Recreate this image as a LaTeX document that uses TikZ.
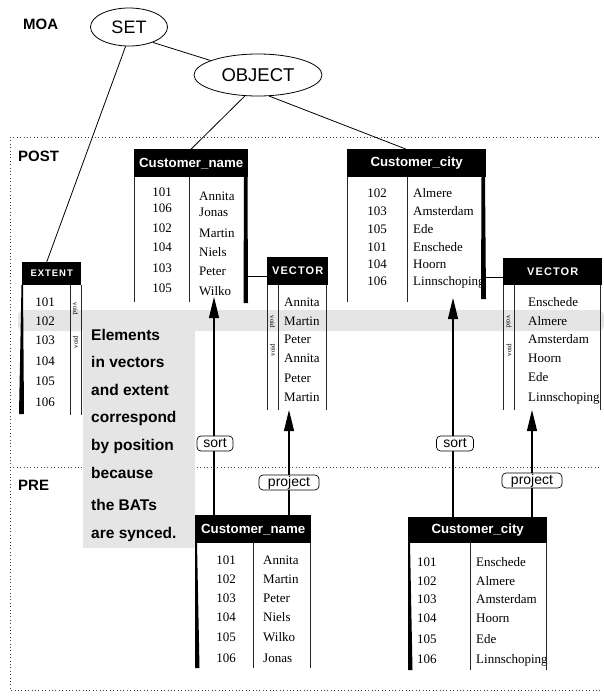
\documentclass[tikz,border=0pt]{standalone}
\usepackage{fontspec}
\setmainfont{Liberation Serif}
\newfontfamily\hv{Liberation Sans}
\newfontfamily\hvsp[LetterSpace=10]{Liberation Sans}
\usetikzlibrary{arrows.meta,shapes.geometric}

\begin{document}
\begin{tikzpicture}[x=1pt,y=-1pt,
  frame/.style={black!75, line width=0.8pt, dash pattern=on 0.8pt off 2.6pt},
  rule/.style={black!85, line width=0.9pt},
  hdr/.style={fill=black, text=white, inner sep=0pt, anchor=north west,
    font=\hv\bfseries\fontsize{13.3}{13.3}\selectfont},
  vhdr/.style={fill=black, text=white, inner sep=0pt, anchor=north west,
    font=\hvsp\bfseries\fontsize{11}{11}\selectfont},
  num/.style={inner sep=0pt, text height=8.6pt, text depth=0pt,
    font=\fontsize{13}{13}\selectfont},
  nm/.style={num, anchor=west},
  vd/.style={inner sep=0pt, font=\fontsize{7}{7}\selectfont},
  tag/.style={font=\hv\bfseries\fontsize{15}{15}\selectfont, inner sep=0pt,
    anchor=west, text height=11pt, text depth=0pt},
  note/.style={font=\hv\bfseries\fontsize{15.5}{15.5}\selectfont, inner sep=0pt,
    anchor=west, text height=11pt, text depth=0pt},
  oval/.style={ellipse, draw, line width=0.8pt, inner sep=0pt},
  link/.style={line width=0.8pt},
  arr/.style={line width=1.2pt, -{Triangle[length=21pt,width=10pt]}},
  op/.style={draw, rounded corners=4pt, fill=white, line width=0.7pt,
    inner sep=0pt, minimum height=15pt, font=\hv\fontsize{14}{14}\selectfont},
]
\useasboundingbox (0,0) rectangle (604,696);

% layer frame: POST above, PRE below
\draw[frame] (10,137) -- (600,137);
\draw[frame] (10,137) -- (10,690) -- (600,690);
\draw[frame] (10,467) -- (600,467);

% highlighted row and explanatory note
\fill[black!10, rounded corners=6pt] (18,310) rectangle (604,331);
\fill[black!10] (83,310) rectangle (195,548);
\foreach \t/\y [count=\i] in {Elements/335, in vectors/362, and extent/390,
    correspond/417, by position/445, because/473, the BATs/505, are synced./533}
  \node[note] (note-\i) at (91,\y) {\t};

% layer labels
\node[tag] (moa) at (23,24) {MOA};
\node[tag] (post) at (18,156) {POST};
\node[tag] (pre) at (18,485) {PRE};

% MOA level
\node[oval, minimum width=77pt, minimum height=38pt,
  font=\hv\fontsize{18}{18}\selectfont] (set) at (129,27) {SET};
\node[oval, minimum width=128pt, minimum height=42pt,
  font=\hv\fontsize{18.5}{18.5}\selectfont] (object) at (258,75) {OBJECT};

% table headers
\node[hdr, minimum width=114pt, minimum height=28pt] (cnT) at (134,149) {Customer\_name};
\node[hdr, minimum width=139pt, minimum height=28pt] (ccT) at (347,149) {Customer\_city};
\node[vhdr, minimum width=59pt, minimum height=23pt,
  font=\hvsp\bfseries\fontsize{9.5}{9.5}\selectfont] (ext) at (22,262) {EXTENT};
\node[vhdr, minimum width=61pt, minimum height=28pt] (vecA) at (267,257) {VECTOR};
\node[vhdr, minimum width=99pt, minimum height=27pt] (vecB) at (503,258) {VECTOR};
\node[hdr, minimum width=116pt, minimum height=28pt] (cnB) at (195,515) {Customer\_name};
\node[hdr, minimum width=139pt, minimum height=26pt] (ccB) at (408,517) {Customer\_city};

% POST: Customer_name
\foreach \t/\y [count=\i] in {101/192,106/208,102/228,104/247,103/268,105/288}
  \node[num] (cnT-k\i) at (162,\y) {\t};
\foreach \t/\y [count=\i] in {Annita/196,Jonas/212,Martin/233,Niels/252,Peter/271,Wilko/291}
  \node[nm] (cnT-v\i) at (199,\y) {\t};

% POST: Customer_city
\foreach \t/\y [count=\i] in {102/193,103/211,105/229,101/247,104/264,106/281}
  \node[num] (ccT-k\i) at (377,\y) {\t};
\foreach \t/\y [count=\i] in {Almere/193,Amsterdam/211,Ede/229,Enschede/247,Hoorn/264,Linnschoping/281}
  \node[nm] (ccT-v\i) at (413,\y) {\t};

% POST: extent
\foreach \t/\y [count=\i] in {101/302,102/321,103/340,104/361,105/381,106/402}
  \node[num] (ext-k\i) at (45,\y) {\t};
\node[vd, rotate=-90] (ext-void1) at (75.5,309) {void};
\node[vd, rotate=90] (ext-void2) at (75.5,342) {void};

% POST: vectors
\foreach \t/\y [count=\i] in {Annita/302,Martin/321,Peter/339,Annita/358,Peter/378,Martin/397}
  \node[nm] (vecA-v\i) at (284,\y) {\t};
\node[vd, rotate=-90] (vecA-void1) at (272.5,322) {void};
\node[vd, rotate=90] (vecA-void2) at (272.5,350) {void};
\foreach \t/\y [count=\i] in {Enschede/302,Almere/321,Amsterdam/339,Hoorn/358,Ede/377,Linnschoping/397}
  \node[nm] (vecB-v\i) at (528,\y) {\t};
\node[vd, rotate=-90] (vecB-void1) at (509,322) {void};
\node[vd, rotate=90] (vecB-void2) at (509,350) {void};

% PRE: Customer_name
\foreach \t/\y [count=\i] in {101/560,102/579,103/598,104/617,105/637,106/658}
  \node[num] (cnB-k\i) at (226,\y) {\t};
\foreach \t/\y [count=\i] in {Annita/560,Martin/579,Peter/598,Niels/617,Wilko/637,Jonas/658}
  \node[nm] (cnB-v\i) at (263,\y) {\t};

% PRE: Customer_city
\foreach \t/\y [count=\i] in {101/562,102/581,103/599,104/618,105/639,106/659}
  \node[nm] (ccB-k\i) at (417,\y) {\t};
\foreach \t/\y [count=\i] in {Enschede/562,Almere/581,Amsterdam/599,Hoorn/618,Ede/639,Linnschoping/659}
  \node[nm] (ccB-v\i) at (476,\y) {\t};

% table bodies: column rules and shaded edges
\draw[rule] (134,177) -- (134,302);
\draw[rule] (189,177) -- (189,302);
\fill (244,177) -- (247.5,177) -- (248,303) -- (243.5,303) -- cycle;

\draw[rule] (347,177) -- (347,302);
\draw[rule] (407,177) -- (407,302);
\fill (481.5,177) -- (485,177) -- (486,299) -- (481,299) -- cycle;

\fill (21.5,285) -- (23,285) -- (24,414) -- (19,414) -- cycle;
\draw[rule] (70,285) -- (70,415);
\draw[rule] (81,285) -- (81,415);

\draw[rule] (267,285) -- (267,410);
\draw[rule] (278,285) -- (278,410);
\draw[rule] (326,285) -- (326,410);

\draw[rule] (503,285) -- (503,410);
\draw[rule] (514,285) -- (514,410);
\draw[rule] (600,285) -- (600,410);

\fill (195,543) -- (197,543) -- (199.5,668) -- (195,668) -- cycle;
\draw[rule] (253,543) -- (253,668);
\draw[rule] (310,543) -- (310,668);

\fill (408,543) -- (410,543) -- (412.5,670) -- (408,670) -- cycle;
\draw[rule] (470,543) -- (470,670);
\draw[rule] (546,543) -- (546,670);

% MOA structure links
\draw[link] (set.-33) -- (object.163);
\draw[link] (set.260) -- ([xshift=-5pt]ext.north);
\draw[link] (object.238) -- (cnT.north);
\draw[link] (object.298) -- ([xshift=-11pt]ccT.north);
\draw[link] ([yshift=-5pt]vecA.west) -- ([yshift=-5pt]vecA.west -| cnT.east);
\draw[link] ([yshift=-5.5pt]vecB.west) -- ([yshift=-5.5pt]vecB.west -| ccT.east);

% operations from PRE to POST
\coordinate (sortA) at (214,297);
\coordinate (projA) at (289,410);
\coordinate (sortB) at (453,298);
\coordinate (projB) at (532,410);
\draw[arr] (cnB.north -| sortA) -- (sortA);
\draw[arr] (cnB.north -| projA) -- (projA);
\draw[arr] (ccB.north -| sortB) -- (sortB);
\draw[arr] (ccB.north -| projB) -- (projB);

\node[op, minimum width=36pt] (sortA-op) at (215,443.5) {sort};
\node[op, minimum width=60pt] (projA-op) at (289,482.5) {project};
\node[op, minimum width=37pt] (sortB-op) at (455,443.5) {sort};
\node[op, minimum width=60pt] (projB-op) at (532,480.5) {project};
\end{tikzpicture}
\end{document}
